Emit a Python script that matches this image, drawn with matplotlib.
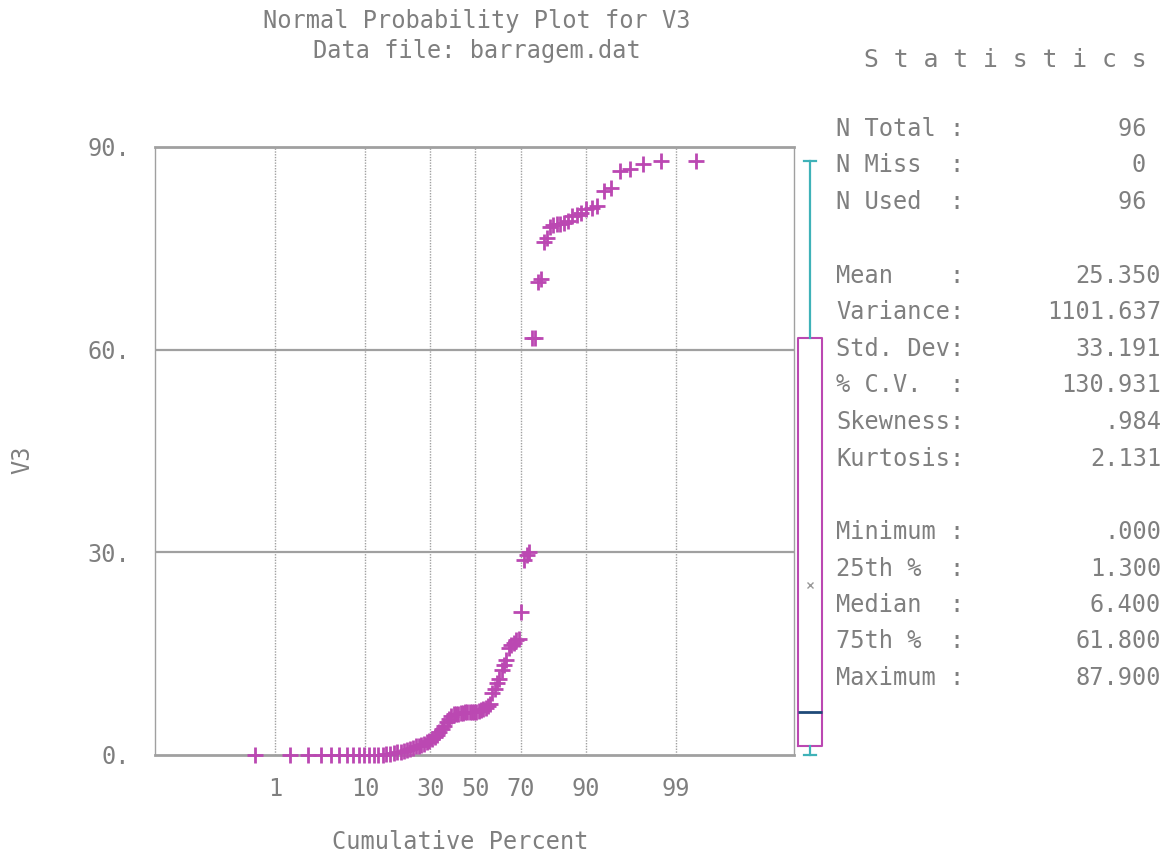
from statistics import NormalDist

import numpy as np
import matplotlib
matplotlib.use('Agg')
import matplotlib.pyplot as plt

## V3 values (sorted)
v3 = [0.0, 0.0, 0.0, 0.0, 0.0, 0.0, 0.0, 0.0, 0.0, 0.0, 0.0, 0.0, 0.0, 0.0,
      0.1, 0.2, 0.3, 0.4, 0.5, 0.6, 0.8, 0.9, 1.1, 1.3, 1.3,
      1.5, 1.7, 1.9, 2.1, 2.4, 2.7, 3.0, 3.4, 3.8, 4.3,
      4.9, 5.4, 5.8, 6.0, 6.1, 6.1, 6.2, 6.2, 6.3, 6.3, 6.3, 6.4, 6.4, 6.4,
      6.5, 6.6, 6.8, 7.0, 7.2, 7.6, 9.2, 9.8, 10.6, 11.2, 12.6, 13.3, 14.0,
      15.8, 16.3, 16.6, 17.0, 17.2, 21.1, 28.9, 29.6, 30.0,
      61.8, 61.8, 70.0, 70.5, 76.0, 76.5,
      78.2, 78.4, 78.6, 78.6, 78.8, 79.0, 79.8, 80.0, 80.2,
      80.8, 81.0, 81.3, 83.5, 84.0, 86.5, 86.8, 87.5, 87.9, 87.9]

tick_pct = [1, 10, 30, 50, 70, 90, 99]
y_ticks = [0, 30, 60, 90]
y_labels = ['0.', '30.', '60.', '90.']

stat_names = ['N Total :', 'N Miss  :', 'N Used  :',
              'Mean    :', 'Variance:', 'Std. Dev:', '% C.V.  :',
              'Skewness:', 'Kurtosis:',
              'Minimum :', '25th %  :', 'Median  :', '75th %  :', 'Maximum :']
stat_values = ['96 ', '0 ', '96 ',
               '25.350', '1101.637', '33.191', '130.931',
               '.984', '2.131',
               '.000', '1.300', '6.400', '61.800', '87.900']
stat_rows = [129, 165, 202, 276, 312, 349, 385, 422, 459, 532, 569, 605, 641, 678]

W, H = 1168, 856
txt = '#7f7f7f'
grid_c = '#a0a0a0'
mag = '#bb48b2'
fs = 17

plt.rcParams['font.family'] = ['DejaVu Sans Mono']
plt.rcParams['font.size'] = fs

nd = NormalDist()
vals = np.sort(np.array(v3))
n = len(vals)
zpos = [nd.inv_cdf((i - 0.5) / n) for i in range(1, n + 1)]
zticks = [nd.inv_cdf(p / 100.) for p in tick_pct]

fig = plt.figure(figsize=(W / 100., H / 100.), dpi=100)
fig.patch.set_facecolor('white')

def fx(px):
    return px / W

def fy(py):
    return 1 - py / H

ax = fig.add_axes([fx(155), fy(755), fx(794) - fx(155), fy(147) - fy(755)])
ax.set_xlim(-3.72, 3.70)
ax.set_ylim(0, 90)

ax.plot(zpos, vals, linestyle='none', marker='+', markersize=11,
        markeredgewidth=2.0, color=mag, clip_on=False, zorder=3)

ax.set_xticks(zticks)
ax.set_xticklabels([str(p) for p in tick_pct])
ax.set_yticks(y_ticks)
ax.set_yticklabels(y_labels)
ax.tick_params(length=0, colors=txt, labelsize=fs)
ax.tick_params(axis='x', pad=16)
ax.tick_params(axis='y', pad=18)

for z in zticks:
    ax.axvline(z, color=grid_c, lw=1.0, ls=(0, (1, 1)), zorder=1)
for yv in [30, 60]:
    ax.axhline(yv, color=grid_c, lw=1.6, zorder=1)

for side in ['top', 'bottom']:
    ax.spines[side].set_color(grid_c)
    ax.spines[side].set_linewidth(2.0)
ax.spines['left'].set_color(grid_c)
ax.spines['left'].set_linewidth(1.0)
ax.spines['left'].set_linestyle((0, (1, 1)))
ax.spines['right'].set_color(grid_c)
ax.spines['right'].set_linewidth(1.0)

ax.set_xlabel('Cumulative Percent', color=txt, fontsize=fs, va='center')
ax.xaxis.set_label_coords((460 - 155) / 639., -(842 - 755) / 608.)
ax.set_ylabel('V3', color=txt, fontsize=fs, va='center')
ax.yaxis.set_label_coords(-(155 - 22) / 639., (755 - 460) / 608.)

## box plot to the right of the plot
ax2 = fig.add_axes([fx(795), fy(755), 30. / W, fy(147) - fy(755)])
ax2.set_xlim(-0.5, 0.5)
ax2.set_ylim(0, 90)
bp = ax2.boxplot(vals, positions=[0], whis=(0, 100), widths=0.8,
                 showmeans=True, patch_artist=False, capwidths=0.4,
                 boxprops=dict(color=mag, lw=1.5),
                 whiskerprops=dict(color='#3fb2b8', lw=1.6),
                 capprops=dict(color='#3fb2b8', lw=1.6),
                 medianprops=dict(color='#1f4a78', lw=2.0),
                 meanprops=dict(marker='x', markersize=5, markeredgecolor='#999999',
                                markeredgewidth=1.0),
                 showfliers=False)
for k in bp:
    for art in bp[k]:
        art.set_clip_on(False)
ax2.axis('off')

## titles
fig.text(fx(477), fy(21), 'Normal Probability Plot for V3', ha='center', va='center',
         color=txt, fontsize=fs)
fig.text(fx(477), fy(51), 'Data file: barragem.dat', ha='center', va='center',
         color=txt, fontsize=fs)
fig.text(fx(864), fy(60), 'S t a t i s t i c s', ha='left', va='center',
         color=txt, fontsize=17.8)

## statistics panel
for name, val, row in zip(stat_names, stat_values, stat_rows):
    fig.text(fx(836), fy(row), name, ha='left', va='center', color=txt, fontsize=fs)
    fig.text(fx(1161), fy(row), val, ha='right', va='center', color=txt, fontsize=fs)

fig.savefig('out.png', dpi=100)
